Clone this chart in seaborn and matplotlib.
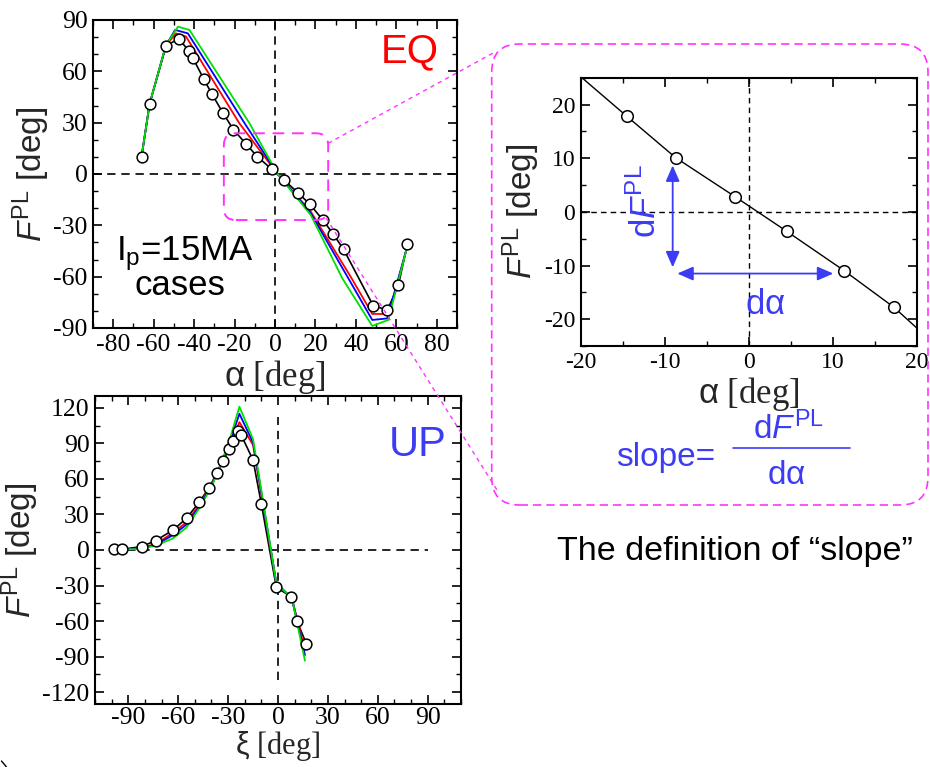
import numpy as np
import pandas as pd
import matplotlib
matplotlib.use("Agg")
import matplotlib.pyplot as plt
import seaborn as sns
from matplotlib.patches import FancyBboxPatch
from matplotlib.lines import Line2D
from matplotlib.transforms import IdentityTransform
from matplotlib.ticker import MultipleLocator

# ---------------- data ----------------
# EQ case: measured points (black circles)
eq_alpha = [-66, -62, -53.8, -47.6, -42.6, -40.7, -35.2, -31.3, -25.8, -20.6, -14.5,
            -8.7, -1.6, 4.5, 11.4, 17.3, 23.5, 28.6, 33.9, 48.6, 55.6, 61, 65.5]
eq_F = [10, 41.2, 75, 79, 72, 68, 55.4, 47, 35.8, 26, 17.8,
        10.1, 2.8, -3.6, -11.0, -17.8, -26.6, -34.8, -44, -77, -79.5, -65, -40.8]

# EQ case: simulated curves
eq_red_a = [-66, -62, -54, -49, -44, -17.6, 1.3, 17.7, 37.4, 48.1, 56.3, 65.5]
eq_red_F = [10, 41, 75, 82.2, 80.3, 29.6, 0, -22, -60, -81.8, -81.8, -42]
eq_blue_a = [-66, -62, -54, -49.4, -43.1, -15, 1.3, 17.7, 35.8, 48.1, 55.5, 65.5]
eq_blue_F = [10, 41, 75, 84.2, 82.2, 29.6, 0, -23, -60, -85.3, -84.4, -42]
eq_green_a = [-66, -62, -54, -48, -42.3, -12.6, 1.3, 17.7, 33.3, 48.1, 56, 65.5]
eq_green_F = [10, 41, 75, 86.1, 84.2, 29.6, 0, -24, -61, -88.8, -85.3, -42]

# UP case: measured points
up_xi = [-98.5, -94, -82, -73.6, -63, -55, -47.4, -41.4, -36.8, -32.8, -29.6, -27.2,
         -24, -22.2, -15, -10, -1, 8, 11.4, 17]
up_F = [0.6, 0.6, 2.8, 7.9, 16.9, 26.8, 40.3, 52.5, 65, 75.5, 85, 92,
        100.8, 97.2, 76, 38.9, -31.5, -39.5, -60, -79]

# UP case: simulated curves
up_sim_xi = [-97.6, -82, -73, -63, -55, -47.4, -40, -33, -28, -23.2, -15, -1, 8.4, 16.2]
up_red_F = [0, 1.5, 5.5, 14.6, 23.5, 38, 55, 76, 92, 107.9, 88.7, -28, -40.8, -84.5]
up_blue_F = [0, 1.2, 4.8, 12.7, 21.5, 36.6, 54, 77, 95, 115, 90.7, -28, -40.8, -88.7]
up_green_F = [0, 1, 4, 9.9, 19, 35.2, 53, 77.5, 98, 121, 93.5, -28, -40.8, -93.5]

# slope sketch arrows (right panel, data units)
dF_arrow_x = -9.05
dF_arrow_y = [8.65, -10.35]
da_arrow_y = -11.5
da_arrow_x = [-8.5, 10.07]

RED = "#ff0000"
BLUE = "#0000ff"
GREEN = "#00e000"
TXTBLUE = "#3c3cf5"
MAG = "#ff33ff"

# ---------------- style ----------------
sns.set_theme(style="ticks")
plt.rcParams.update({
    "font.family": ["Liberation Serif", "DejaVu Serif"],
    "mathtext.fontset": "custom",
    "mathtext.rm": "Liberation Sans",
    "mathtext.it": "Liberation Sans:italic",
    "mathtext.sf": "Liberation Sans",
    "axes.unicode_minus": False,
    "axes.linewidth": 1.5,
    "axes.edgecolor": "black",
    "xtick.direction": "in",
    "ytick.direction": "in",
    "xtick.top": True,
    "ytick.right": True,
    "xtick.major.size": 6.5,
    "ytick.major.size": 6.5,
    "xtick.minor.size": 3.5,
    "ytick.minor.size": 3.5,
    "xtick.major.width": 1.2,
    "ytick.major.width": 1.2,
    "xtick.minor.width": 1.0,
    "ytick.minor.width": 1.0,
    "xtick.color": "black",
    "ytick.color": "black",
    "xtick.labelcolor": "black",
    "ytick.labelcolor": "black",
})

W, H = 930, 767
fig = plt.figure(figsize=(W / 100, H / 100), dpi=100)
fig.patch.set_facecolor("white")
PX = IdentityTransform()


def P(x, y):
    """image pixel coords (origin top-left) -> display coords"""
    return (x, H - y)


def ax_rect(l, t, r, b):
    return [l / W, 1 - b / H, (r - l) / W, (b - t) / H]


ax1 = fig.add_axes(ax_rect(93, 20, 457, 328))
ax2 = fig.add_axes(ax_rect(95, 396, 461, 704))
ax3 = fig.add_axes(ax_rect(580.7, 77.7, 916.7, 346))

sans = ["Liberation Sans", "DejaVu Sans"]
ylab = r"$\mathit{F}^{\mathrm{PL}}$ [deg]"


def lines(ax, x, y, color, lw=1.3):
    df = pd.DataFrame({"x": x, "y": y})
    sns.lineplot(data=df, x="x", y="y", ax=ax, color=color, lw=lw, sort=False,
                 estimator=None, legend=False, zorder=3)


def circles(ax, x, y, s=60):
    df = pd.DataFrame({"x": x, "y": y})
    sns.scatterplot(data=df, x="x", y="y", ax=ax, s=s, facecolor="white",
                    edgecolor="black", linewidth=1.1, legend=False, zorder=5)


# ---------------- EQ panel ----------------
ax1.axhline(0, color="black", lw=1.2, ls=(0, (5, 3.5)), zorder=1)
ax1.axvline(0, color="black", lw=1.2, ls=(0, (5, 3.5)), zorder=1)
lines(ax1, eq_alpha, eq_F, "black", 1.2)
lines(ax1, eq_red_a, eq_red_F, RED)
lines(ax1, eq_blue_a, eq_blue_F, BLUE)
lines(ax1, eq_green_a, eq_green_F, GREEN)
circles(ax1, eq_alpha, eq_F)
ax1.set_xlim(-90, 90)
ax1.set_ylim(-90, 90)
ax1.xaxis.set_major_locator(MultipleLocator(20))
ax1.xaxis.set_minor_locator(MultipleLocator(10))
ax1.yaxis.set_major_locator(MultipleLocator(30))
ax1.yaxis.set_minor_locator(MultipleLocator(10))
ax1.set_xlabel(r"$\mathsf{\alpha}$ [deg]", fontsize=25, labelpad=2)
ax1.set_ylabel(ylab, fontsize=24, family=sans, labelpad=1)

# ---------------- UP panel ----------------
ax2.plot([-99, 90], [0, 0], color="black", lw=1.2, ls=(0, (5, 3.5)), zorder=1)
ax2.plot([0, 0], [-110, 112], color="black", lw=1.2, ls=(0, (5, 3.5)), zorder=1)
lines(ax2, up_xi, up_F, "black", 1.2)
lines(ax2, up_sim_xi, up_red_F, RED)
lines(ax2, up_sim_xi, up_blue_F, BLUE)
lines(ax2, up_sim_xi, up_green_F, GREEN)
circles(ax2, up_xi, up_F)
ax2.set_xlim(-110, 110)
ax2.set_ylim(-130, 130)
ax2.xaxis.set_major_locator(MultipleLocator(30))
ax2.xaxis.set_minor_locator(MultipleLocator(10))
ax2.yaxis.set_major_locator(MultipleLocator(30))
ax2.yaxis.set_minor_locator(MultipleLocator(15))
ax2.set_xlabel(r"$\mathsf{\xi}$ [deg]", fontsize=22, labelpad=0)
ax2.set_ylabel(ylab, fontsize=24, family=sans, labelpad=1)

# ---------------- zoomed slope panel ----------------
ax3.axhline(0, color="black", lw=1.0, ls=(0, (4, 3)), zorder=1)
ax3.axvline(0, color="black", lw=1.0, ls=(0, (4, 3)), zorder=1)
lines(ax3, eq_alpha, eq_F, "black", 1.0)
circles(ax3, eq_alpha, eq_F, s=70)
ax3.set_xlim(-20, 20)
ax3.set_ylim(-25, 25)
ax3.xaxis.set_major_locator(MultipleLocator(10))
ax3.xaxis.set_minor_locator(MultipleLocator(5))
ax3.yaxis.set_major_locator(MultipleLocator(10))
ax3.yaxis.set_minor_locator(MultipleLocator(5))
ax3.set_xlabel(r"$\mathsf{\alpha}$ [deg]", fontsize=25, labelpad=2)
ax3.set_ylabel(ylab, fontsize=24, family=sans, labelpad=1)
arrow_kw = dict(arrowstyle="<|-|>,head_length=0.8,head_width=0.35", color=TXTBLUE,
                lw=1.3, shrinkA=0, shrinkB=0)
ax3.annotate("", xy=(dF_arrow_x, dF_arrow_y[0]), xytext=(dF_arrow_x, dF_arrow_y[1]),
             arrowprops=arrow_kw, zorder=6)
ax3.annotate("", xy=(da_arrow_x[0], da_arrow_y), xytext=(da_arrow_x[1], da_arrow_y),
             arrowprops=arrow_kw, zorder=6)

for ax, fs in ((ax1, 18.5), (ax2, 18.5), (ax3, 17)):
    ax.tick_params(which="both", labelsize=fs, pad=4)
    for lab in ax.get_xticklabels() + ax.get_yticklabels():
        lab.set_family(["Liberation Serif", "DejaVu Serif"])
    for sp in ax.spines.values():
        sp.set_visible(True)
ax2.tick_params(axis="x", which="both", pad=2.5)

# ---------------- texts ----------------
def T(x, y, s, **kw):
    fig.text(*P(x, y), s, transform=PX, **kw)

T(381, 62.5, "EQ", color=RED, fontsize=29, family=sans, ha="left", va="baseline")
T(389, 456.5, "UP", color=TXTBLUE, fontsize=30, family=sans, ha="left", va="baseline")
T(116, 260.5, r"I$_\mathrm{p}$=15MA", color="black", fontsize=25, family=sans,
  ha="left", va="baseline")
T(135, 295, "cases", color="black", fontsize=25, family=sans, ha="left", va="baseline")
T(646, 201, r"d$\mathit{F}^{\mathrm{PL}}$", color=TXTBLUE, fontsize=25, family=sans,
  ha="center", va="center", rotation=90)
T(745, 314, r"d$\mathrm{\alpha}$", color=TXTBLUE, fontsize=25, family=sans,
  ha="left", va="baseline")
T(616, 466, "slope=", color=TXTBLUE, fontsize=24, family=sans, ha="left", va="baseline")
T(753, 439, r"d$\mathit{F}^{\mathrm{PL}}$", color=TXTBLUE, fontsize=24, family=sans,
  ha="left", va="baseline")
T(767, 484, r"d$\mathrm{\alpha}$", color=TXTBLUE, fontsize=24, family=sans,
  ha="left", va="baseline")
fig.add_artist(Line2D([733.3, 850], [H - 448.3, H - 448.3], transform=PX,
                      color=TXTBLUE, lw=1.2))
T(557, 560, "The definition of \u201cslope\u201d", color="black", fontsize=24.5,
  family=sans, ha="left", va="baseline")

# ---------------- magenta zoom frame ----------------
fig.canvas.draw()
(x0, y0) = ax1.transData.transform((-25.3, -26.9))
(x1, y1) = ax1.transData.transform((26.3, 23.8))
small = FancyBboxPatch((x0, y0), x1 - x0, y1 - y0,
                       boxstyle="round,pad=0,rounding_size=12", transform=PX,
                       fill=False, edgecolor=MAG, lw=1.4, ls=(0, (6, 4)), zorder=10)
fig.add_artist(small)
big = FancyBboxPatch(P(491.7, 505), 928 - 491.7, 505 - 44,
                     boxstyle="round,pad=0,rounding_size=28", transform=PX,
                     fill=False, edgecolor=MAG, lw=1.2, ls=(0, (5, 3)), zorder=10)
fig.add_artist(big)
fig.add_artist(Line2D([x1, 495], [y1 - 10, H - 52], transform=PX, color=MAG,
                      lw=1.0, ls=(0, (3, 3)), zorder=10))
fig.add_artist(Line2D([x1 - 2, 497], [y0 + 2, H - 490], transform=PX, color=MAG,
                      lw=1.0, ls=(0, (3, 3)), zorder=10))
# tiny bit of an outer frame at the lower-left edge
fig.add_artist(Line2D([1.5, 6.5], [H - 761, H - 767], transform=PX, color="black",
                      lw=1.0))

fig.savefig("out.png", dpi=100)
